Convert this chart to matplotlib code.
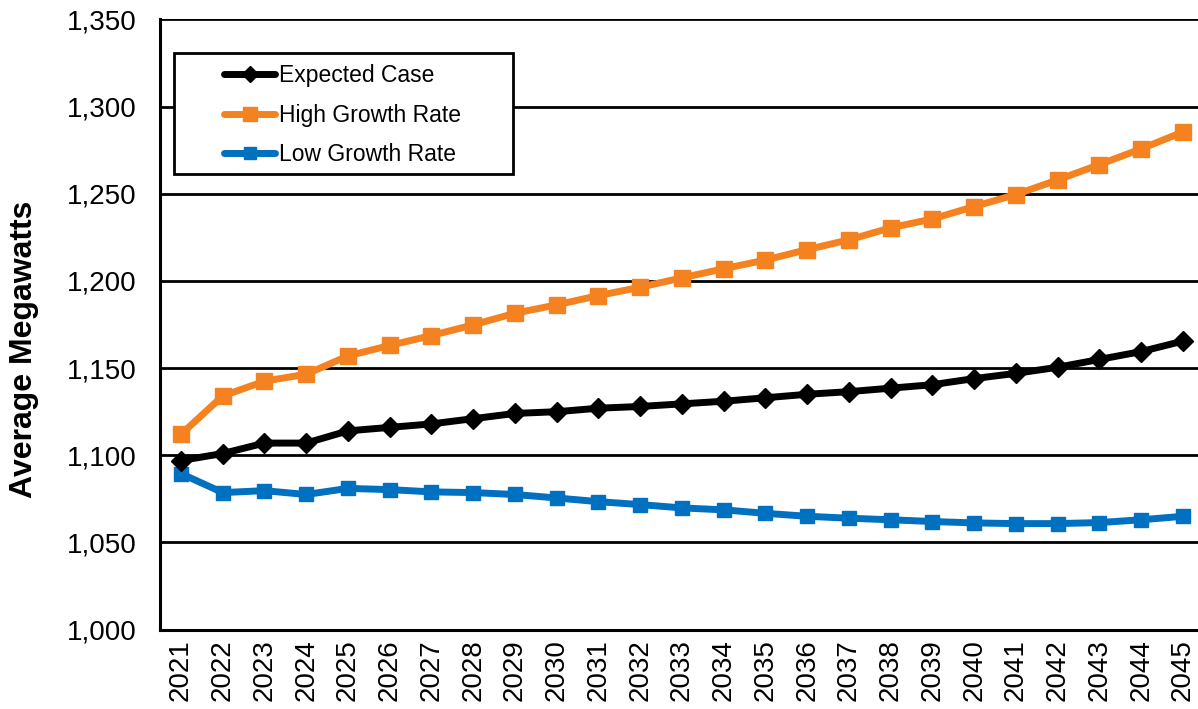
import matplotlib.pyplot as plt
from matplotlib.patches import Rectangle
from matplotlib.ticker import FuncFormatter

years = list(range(2021, 2046))
expected_case = [1097, 1101, 1107, 1107, 1114, 1116, 1118, 1121, 1124, 1125,
                 1127, 1128, 1129.5, 1131, 1133, 1135, 1136.5, 1138.5, 1140.5, 1144,
                 1147, 1150.5, 1155, 1159.5, 1165.5]
high_growth = [1112, 1134, 1142.5, 1146.5, 1157, 1163, 1168.7, 1174.8, 1181.5, 1186.3,
               1191.6, 1196.4, 1201.8, 1207, 1212, 1218, 1223.6, 1230.5, 1235.6, 1242.7,
               1249.6, 1258, 1266.8, 1275.8, 1285.5]
low_growth = [1089.5, 1078.6, 1079.7, 1077.5, 1081, 1080.3, 1079, 1078.6, 1077.5, 1075.5,
              1073.4, 1071.7, 1069.8, 1068.7, 1066.7, 1065, 1063.9, 1063, 1062, 1061.2,
              1060.8, 1060.8, 1061.4, 1063, 1065]
y_ticks = [1000, 1050, 1100, 1150, 1200, 1250, 1300, 1350]

plt.rcParams["font.family"] = ["Liberation Sans", "DejaVu Sans"]

fig = plt.figure(figsize=(11.98, 7.09), dpi=100)
ax = fig.add_axes([0.1336, 0.112, 0.8664, 0.8605])

ax.plot(years, expected_case, color="black", lw=5, marker="D", ms=10,
        label="Expected Case", solid_capstyle="round", zorder=4)
ax.plot(years, high_growth, color="#F58220", lw=5, marker="s", ms=12,
        label="High Growth Rate", solid_capstyle="round", zorder=3)
ax.plot(years, low_growth, color="#0070C0", lw=5, marker="s", ms=10,
        label="Low Growth Rate", solid_capstyle="round", zorder=3)

ax.set_ylim(1000, 1350)
ax.set_xlim(2020.5, 2045.36)
ax.set_yticks(y_ticks)
ax.yaxis.set_major_formatter(FuncFormatter(lambda v, p: "{:,.0f}".format(v)))
ax.set_xticks(years)
ax.set_xticklabels([str(y) for y in years], rotation=90)
ax.tick_params(axis="y", length=0, pad=17, labelsize=20)
ax.tick_params(axis="x", length=0, pad=7, labelsize=20)
ax.grid(axis="y", color="black", lw=2, zorder=1)
ax.set_axisbelow(True)

for side in ["top", "right"]:
    ax.spines[side].set_visible(False)
for side in ["left", "bottom"]:
    ax.spines[side].set_linewidth(2.2)

ax.set_ylabel("Average Megawatts", fontsize=23, fontweight="bold", labelpad=14)
ax.yaxis.set_label_coords(-0.117, 0.46)

# legend box drawn separately so the entries can sit inset like the original
ax.add_patch(Rectangle((0.0135, 0.747), 0.3265, 0.198, transform=ax.transAxes,
                       facecolor="white", edgecolor="black", lw=2, zorder=5))
leg = ax.legend(loc="upper left", bbox_to_anchor=(0.062, 0.927), fontsize=16.5,
                frameon=False, borderpad=0, handlelength=2.2, handletextpad=0.2,
                labelspacing=0.72, borderaxespad=0, markerscale=0.85)
leg.set_zorder(6)

fig.savefig("out.png", dpi=100)
